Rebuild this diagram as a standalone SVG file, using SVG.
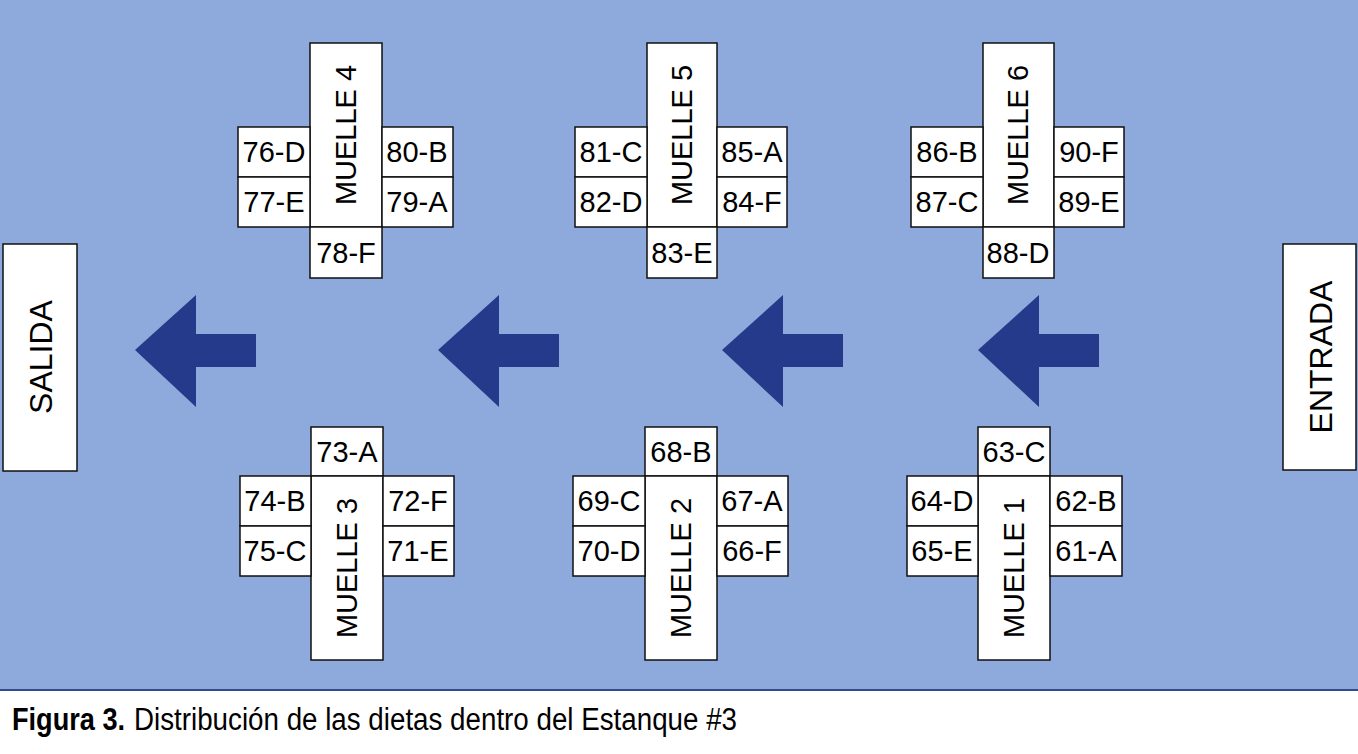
<svg xmlns="http://www.w3.org/2000/svg" width="1358" height="754" viewBox="0 0 1358 754">
<style>
.cell{fill:#ffffff;stroke:#111111;stroke-width:1.5}
.lbl{font-family:"Liberation Sans",Arial,sans-serif;font-size:29px;fill:#000000;text-anchor:middle}
.big{font-family:"Liberation Sans",Arial,sans-serif;font-size:32px;fill:#000000;text-anchor:middle}
.arrow{fill:#253A8A}
.cap{font-family:"Liberation Sans Narrow","Liberation Sans",Arial,sans-serif;font-size:31px;fill:#000000}
</style>
<defs>
<polygon id="arr" points="0,0 61,-55 61,-16 121,-16 121,17 61,17 61,57"/>
</defs>
<rect x="0" y="0" width="1358" height="689" fill="#8EA9DB"/>
<line x1="0" y1="690" x2="1358" y2="690" stroke="#2F4C8F" stroke-width="2"/>

<g id="salida">
<rect class="cell" x="3" y="244" width="74" height="227"/>
<text class="big" transform="translate(40,357) rotate(-90)" dy="0.36em">SALIDA</text>
</g>
<g id="entrada">
<rect class="cell" x="1283" y="244" width="73" height="226"/>
<text class="big" transform="translate(1320,357) rotate(-90)" dy="0.36em">ENTRADA</text>
</g>

<g id="muelle4">
<rect class="cell" x="310" y="43" width="72" height="184"/>
<text class="lbl" transform="translate(346,135) rotate(-90)" dy="0.36em">MUELLE 4</text>
<rect class="cell" x="238" y="127" width="72" height="50"/><text class="lbl" x="274" y="162">76-D</text>
<rect class="cell" x="238" y="177" width="72" height="50"/><text class="lbl" x="274" y="212">77-E</text>
<rect class="cell" x="382" y="127" width="71" height="50"/><text class="lbl" x="417" y="162">80-B</text>
<rect class="cell" x="382" y="177" width="71" height="50"/><text class="lbl" x="417" y="212">79-A</text>
<rect class="cell" x="310" y="227" width="72" height="51"/><text class="lbl" x="346" y="263">78-F</text>
</g>

<g id="muelle5">
<rect class="cell" x="647" y="43" width="70" height="184"/>
<text class="lbl" transform="translate(682,135) rotate(-90)" dy="0.36em">MUELLE 5</text>
<rect class="cell" x="575" y="127" width="72" height="50"/><text class="lbl" x="611" y="162">81-C</text>
<rect class="cell" x="575" y="177" width="72" height="50"/><text class="lbl" x="611" y="212">82-D</text>
<rect class="cell" x="717" y="127" width="70" height="50"/><text class="lbl" x="752" y="162">85-A</text>
<rect class="cell" x="717" y="177" width="70" height="50"/><text class="lbl" x="752" y="212">84-F</text>
<rect class="cell" x="647" y="227" width="70" height="51"/><text class="lbl" x="682" y="263">83-E</text>
</g>

<g id="muelle6">
<rect class="cell" x="983" y="43" width="71" height="184"/>
<text class="lbl" transform="translate(1018,135) rotate(-90)" dy="0.36em">MUELLE 6</text>
<rect class="cell" x="911" y="127" width="72" height="50"/><text class="lbl" x="947" y="162">86-B</text>
<rect class="cell" x="911" y="177" width="72" height="50"/><text class="lbl" x="947" y="212">87-C</text>
<rect class="cell" x="1054" y="127" width="70" height="50"/><text class="lbl" x="1089" y="162">90-F</text>
<rect class="cell" x="1054" y="177" width="70" height="50"/><text class="lbl" x="1089" y="212">89-E</text>
<rect class="cell" x="983" y="227" width="71" height="51"/><text class="lbl" x="1018" y="263">88-D</text>
</g>

<g id="muelle3">
<rect class="cell" x="311" y="427" width="72" height="49"/><text class="lbl" x="347" y="462">73-A</text>
<rect class="cell" x="311" y="476" width="72" height="184"/>
<text class="lbl" transform="translate(347,568) rotate(-90)" dy="0.36em">MUELLE 3</text>
<rect class="cell" x="240" y="476" width="71" height="50"/><text class="lbl" x="275" y="511">74-B</text>
<rect class="cell" x="240" y="526" width="71" height="50"/><text class="lbl" x="275" y="561">75-C</text>
<rect class="cell" x="383" y="476" width="71" height="50"/><text class="lbl" x="418" y="511">72-F</text>
<rect class="cell" x="383" y="526" width="71" height="50"/><text class="lbl" x="418" y="561">71-E</text>
</g>

<g id="muelle2">
<rect class="cell" x="645" y="427" width="72" height="49"/><text class="lbl" x="681" y="462">68-B</text>
<rect class="cell" x="645" y="476" width="72" height="184"/>
<text class="lbl" transform="translate(681,568) rotate(-90)" dy="0.36em">MUELLE 2</text>
<rect class="cell" x="573" y="476" width="72" height="50"/><text class="lbl" x="609" y="511">69-C</text>
<rect class="cell" x="573" y="526" width="72" height="50"/><text class="lbl" x="609" y="561">70-D</text>
<rect class="cell" x="717" y="476" width="71" height="50"/><text class="lbl" x="752" y="511">67-A</text>
<rect class="cell" x="717" y="526" width="71" height="50"/><text class="lbl" x="752" y="561">66-F</text>
</g>

<g id="muelle1">
<rect class="cell" x="978" y="427" width="72" height="49"/><text class="lbl" x="1014" y="462">63-C</text>
<rect class="cell" x="978" y="476" width="72" height="184"/>
<text class="lbl" transform="translate(1014,568) rotate(-90)" dy="0.36em">MUELLE 1</text>
<rect class="cell" x="907" y="476" width="71" height="50"/><text class="lbl" x="942" y="511">64-D</text>
<rect class="cell" x="907" y="526" width="71" height="50"/><text class="lbl" x="942" y="561">65-E</text>
<rect class="cell" x="1050" y="476" width="72" height="50"/><text class="lbl" x="1086" y="511">62-B</text>
<rect class="cell" x="1050" y="526" width="72" height="50"/><text class="lbl" x="1086" y="561">61-A</text>
</g>

<g id="connectors">
<use href="#arr" class="arrow" x="135" y="350"/>
<use href="#arr" class="arrow" x="438" y="350"/>
<use href="#arr" class="arrow" x="722" y="350"/>
<use href="#arr" class="arrow" x="978" y="350"/>
</g>

<g id="caption">
<text class="cap" x="12" y="730" font-weight="bold" textLength="113" lengthAdjust="spacingAndGlyphs">Figura 3.</text>
<text class="cap" x="134" y="730" textLength="603" lengthAdjust="spacingAndGlyphs">Distribución de las dietas dentro del Estanque #3</text>
</g>
</svg>
